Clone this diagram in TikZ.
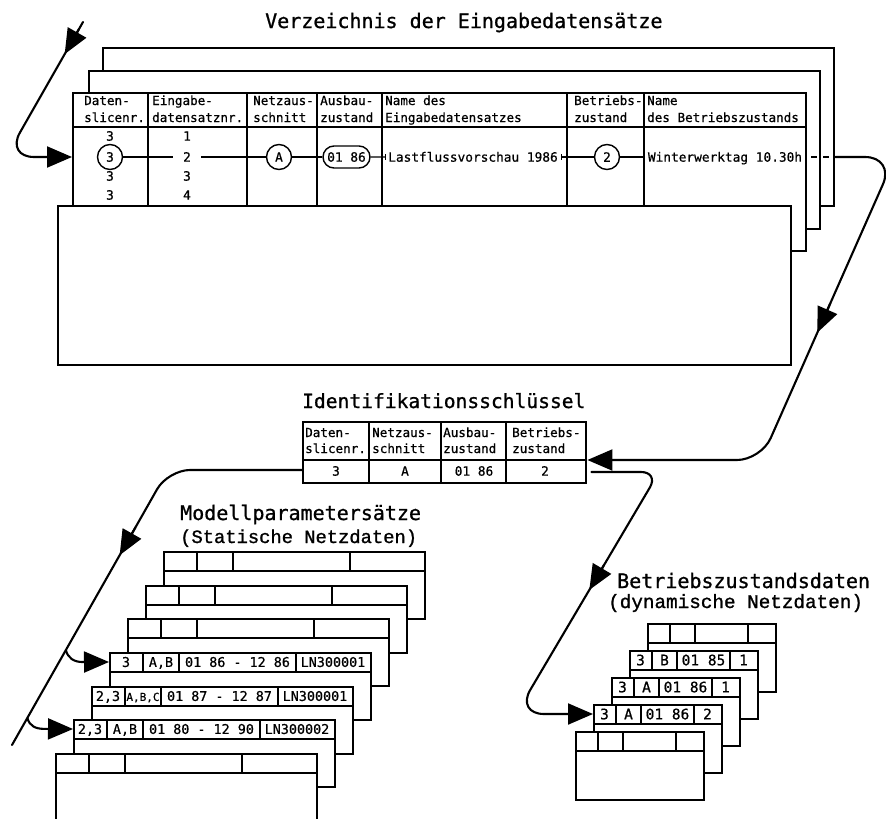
\documentclass[tikz,border=0pt]{standalone}
\usepackage{fontspec}
\setmainfont{DejaVu Sans Mono}[FakeBold=0.6]
\newfontfamily\titlefont{DejaVu Sans Mono}[FakeBold=1.0]
\newfontfamily\courierfont{Liberation Mono}[FakeBold=1.2]
\usetikzlibrary{arrows.meta,calc,shapes.misc}

\tikzset{
  sheet/.style={draw, fill=white, line width=2.4pt, inner sep=0pt, anchor=north west},
  gridrule/.style={line width=1.2pt},
  thickrule/.style={line width=2.2pt},
  rowline/.style={line width=1.4pt},
  conn/.style={line width=2.1pt, line cap=round},
  tipped/.style={-{Triangle[length=25pt,width=21pt]}},
  headline/.style={font=\titlefont\fontsize{20}{22}\selectfont, inner sep=0pt, anchor=base west},
  subhead/.style={font=\courierfont\fontsize{18.8}{20}\selectfont, inner sep=0pt, anchor=base west},
  hdr/.style={font=\fontsize{12.6}{14}\selectfont, inner sep=0pt, anchor=base west},
  cell/.style={font=\fontsize{12.8}{14}\selectfont, inner sep=0pt, text height=9.3pt, text depth=0pt},
  mcell/.style={font=\fontsize{13.4}{15}\selectfont, inner sep=0pt, text height=9.8pt, text depth=0pt},
  bcell/.style={font=\fontsize{14.5}{16}\selectfont, inner sep=0pt, text height=10.6pt, text depth=0pt},
  ring/.style={circle, draw, line width=1.4pt, minimum size=25pt, inner sep=0pt,
    font=\fontsize{12.8}{14}\selectfont},
}

% one record of the model parameter stack: name, x, y, four field texts
\newcommand\mpsheet[7]{%
  \node[sheet, minimum width=261pt, minimum height=67pt] (#1) at (#2,#3) {};
  \draw[gridrule] ($(#1.north west)+(0,20)$) -- ($(#1.north east)+(0,20)$);
  \foreach \dx in {34,70,187} {\draw[gridrule] ($(#1.north west)+(\dx,0)$) -- ++(0,20);}
  \node[mcell] (#1-a) at ($(#1.north west)+(17,10)$) {#4};
  \node[mcell] (#1-b) at ($(#1.north west)+(52,10)$) {#5};
  \node[mcell] (#1-c) at ($(#1.north west)+(128.5,10)$) {#6};
  \node[mcell] (#1-d) at ($(#1.north west)+(224,10)$) {#7};
}

% one record of the operating state stack: name, x, y, four field texts
\newcommand\bzsheet[7]{%
  \node[sheet, minimum width=128pt, minimum height=68pt] (#1) at (#2,#3) {};
  \draw[gridrule] ($(#1.north west)+(0,20)$) -- ($(#1.north east)+(0,20)$);
  \foreach \dx in {23,48,101} {\draw[gridrule] ($(#1.north west)+(\dx,0)$) -- ++(0,20);}
  \node[bcell] (#1-a) at ($(#1.north west)+(11.5,10)$) {#4};
  \node[bcell] (#1-b) at ($(#1.north west)+(35.5,10)$) {#5};
  \node[bcell] (#1-c) at ($(#1.north west)+(74.5,10)$) {#6};
  \node[bcell] (#1-d) at ($(#1.north west)+(114.5,10)$) {#7};
}

\begin{document}
\begin{tikzpicture}[x=1pt, y=-1pt]
\useasboundingbox (0,0) rectangle (886,819);

% ---------- directory of input data records ----------
\node[headline] (vzT) at (265,28) {Verzeichnis der Eingabedatensätze};

\node[sheet, minimum width=731pt, minimum height=158pt] (vz3) at (102,47) {};
\node[sheet, minimum width=731pt, minimum height=158pt] (vz2) at (88,70) {};
\node[sheet, minimum width=733pt, minimum height=158pt] (vz1) at (72,92) {};
\draw[thickrule] ($(vz1.north west)+(0,35)$) -- ($(vz1.north east)+(0,35)$);
\foreach \cx in {148,247,317,382,567,644} {\draw[gridrule] (\cx,92) -- (\cx,205);}
\node[sheet, minimum width=733pt, minimum height=159pt] (vz0) at (57,205) {};

\foreach \hx/\ha/\hb [count=\i] in {84/Daten-/slicenr., 152/Eingabe-/datensatznr.,
    253/Netzaus-/schnitt, 320/Ausbau-/zustand, 385/Name des/Eingabedatensatzes,
    574/Betriebs-/zustand, 647/Name/des Betriebszustands} {
  \node[hdr] (vzh\i-a) at (\hx,105) {\ha};
  \node[hdr] (vzh\i-b) at (\hx,122) {\hb};
}

\node[cell] (r1a) at (110,136) {3};
\node[ring] (c3) at (110,157) {3};
\node[cell] (r3a) at (110,176) {3};
\node[cell] (r4a) at (110,195) {3};
\node[cell] (r1b) at (187,136) {1};
\node[cell, inner xsep=10pt] (r2b) at (187,157) {2};
\node[cell] (r3b) at (187,176) {3};
\node[cell] (r4b) at (187,195) {4};
\node[ring] (cA) at (279,157) {A};
\node[rounded rectangle, draw, line width=1.4pt, minimum width=47pt, minimum height=22pt,
  inner sep=0pt, font=\fontsize{12.8}{14}\selectfont] (ab) at (346.5,157) {01 86};
\node[cell, inner xsep=3pt] (lf) at (473,157) {Lastflussvorschau 1986};
\node[ring] (c2) at (607,157) {2};
\node[cell, inner xsep=3pt] (wt) at (725,157) {Winterwerktag 10.30h};

\foreach \u/\v in {c3/r2b, r2b/cA, cA/ab, ab/lf, lf/c2, c2/wt} {\draw[rowline] (\u) -- (\v);}
\draw[rowline] (wt) -- (vz1.east |- wt);
\foreach \t in {lf.west, lf.east, wt.west} {\draw[line width=0.9pt] ($(\t)+(0,-3)$) -- ++(0,6);}
\draw[rowline] ($(vz1.east |- wt)+(4,0)$) -- ++(6,0);
\draw[rowline] ($(vz2.east |- wt)+(2,0)$) -- ++(6,0);

% ---------- identification key ----------
\node[headline, font=\titlefont\fontsize{19.6}{22}\selectfont] (idtT) at (302,408) {Identifikationsschlüssel};
\node[sheet, minimum width=283pt, minimum height=61pt] (idt) at (302,421) {};
\draw[thickrule] ($(idt.north west)+(0,39)$) -- ($(idt.north east)+(0,39)$);
\foreach \cx in {369,441,506} {\draw[gridrule] (\cx,421) -- (\cx,482);}
\foreach \hx/\ha/\hb [count=\i] in {305/Daten-/slicenr., 372/Netzaus-/schnitt,
    443/Ausbau-/zustand, 512/Betriebs-/zustand} {
  \node[hdr] (idh\i-a) at (\hx,437) {\ha};
  \node[hdr] (idh\i-b) at (\hx,453) {\hb};
}
\node[cell] (id1) at (336,471) {3};
\node[cell] (id2) at (405,471) {A};
\node[cell] (id3) at (474,471) {01 86};
\node[cell] (id4) at (545,471) {2};

% ---------- model parameter records ----------
\node[headline] (mpT) at (180,520) {Modellparametersätze};
\node[subhead] (mpS) at (180,543) {(Statische Netzdaten)};
\mpsheet{mpA}{163}{551}{}{}{}{}
\mpsheet{mpB}{145}{585}{}{}{}{}
\mpsheet{mpC}{127}{618}{}{}{}{}
\mpsheet{mpD}{109}{652}{3}{A,B}{01 86 - 12 86}{LN300001}
\mpsheet{mpE}{91}{686}{2,3}{\fontsize{11}{12}\selectfont A,B,C}{01 87 - 12 87}{LN300001}
\mpsheet{mpF}{73}{719}{2,3}{A,B}{01 80 - 12 90}{LN300002}
\mpsheet{mpG}{55}{753}{}{}{}{}

% ---------- operating state records ----------
\node[headline] (bzT) at (617,588) {Betriebszustandsdaten};
\node[subhead, font=\courierfont\fontsize{19.3}{20}\selectfont] (bzS) at (608,608) {(dynamische Netzdaten)};
\bzsheet{bzA}{647}{623}{}{}{}{}
\bzsheet{bzB}{629}{650}{3}{B}{01 85}{1}
\bzsheet{bzC}{611}{677}{3}{A}{01 86}{1}
\bzsheet{bzD}{593}{704}{3}{A}{01 86}{2}
\bzsheet{bzE}{575}{731}{}{}{}{}

% ---------- connectors ----------
% incoming search into the directory
\coordinate (tl0) at (83,22);
\coordinate (tlv) at (6,157);
\draw[conn, tipped, rounded corners=28pt] (tl0) -- (tlv) -- (vz1.west |- c3);
\draw[conn, tipped] ($(tl0)!8pt!(tlv)$) -- ($(tl0)!37pt!(tlv)$);

% directory entry to identification key
\coordinate (rv1) at (895,157);
\coordinate (rv2) at (761,460);
\coordinate (idtIn) at ($(idt.north east)+(0,39)$);
\draw[conn, tipped, rounded corners=30pt] (vz3.east |- wt) -- (rv1)
  [rounded corners=24pt] -- (rv2) -- (idtIn);
\draw[conn, tipped] ($(rv1)!160pt!(rv2)$) -- ($(rv1)!192pt!(rv2)$);

% key to model parameter records
\coordinate (idtOutL) at ($(idt.north west)+(0,49)$);
\coordinate (lv1) at (168,470);
\coordinate (lv2) at (12,745);
\draw[conn, rounded corners=22pt] (idtOutL) -- (lv1) -- (lv2);
\draw[conn, tipped] ($(lv1)!66pt!(lv2)$) -- ($(lv1)!98pt!(lv2)$);
\coordinate (bp1) at ($(lv1)!207pt!(lv2)$);
\coordinate (bp2) at ($(lv1)!285pt!(lv2)$);
\coordinate (mpDin) at ($(mpD.north west)+(0,10)$);
\coordinate (mpFin) at ($(mpF.north west)+(0,10)$);
\draw[conn, tipped] (bp1) .. controls ($(bp1)+(2,8)$) and ($(bp1)+(8,12)$) .. ($(bp1)+(17,12)$) -- (mpDin);
\draw[conn, tipped] (bp2) .. controls ($(bp2)+(2,8)$) and ($(bp2)+(8,11)$) .. ($(bp2)+(17,11)$) -- (mpFin);

% key to operating state records
\coordinate (idtOutR) at ($(idt.north east)+(4,51)$);
\coordinate (bv1) at (659,472);
\coordinate (bv2) at (516,714);
\coordinate (bzDin) at ($(bzD.north west)+(0,10)$);
\draw[conn, tipped, rounded corners=18pt] (idtOutR) -- (bv1)
  [rounded corners=28pt] -- (bv2) -- (bzDin);
\draw[conn, tipped] ($(bv1)!108pt!(bv2)$) -- ($(bv1)!137pt!(bv2)$);
\end{tikzpicture}
\end{document}
